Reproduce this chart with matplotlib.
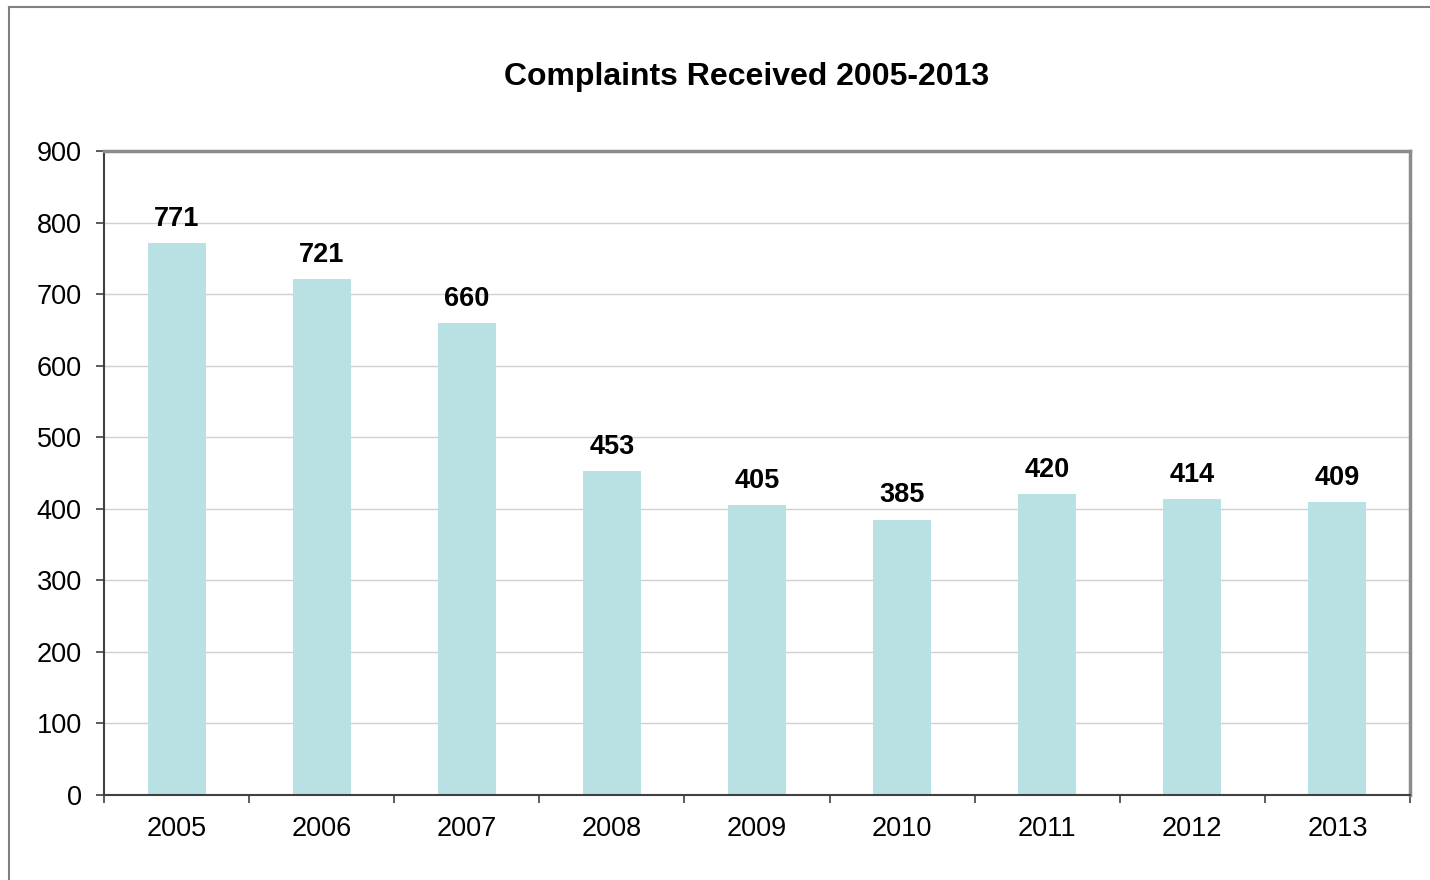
import matplotlib.pyplot as plt
from matplotlib.lines import Line2D

plt.rcParams['font.family'] = ['Liberation Sans', 'DejaVu Sans']

# Complaints per year
years = ['2005', '2006', '2007', '2008', '2009', '2010', '2011', '2012', '2013']
complaints = [771, 721, 660, 453, 405, 385, 420, 414, 409]

W, H = 1430, 880
fig = plt.figure(figsize=(W / 100, H / 100), dpi=100)

# outer chart border (runs off the right/bottom edge)
fig.add_artist(Line2D([8.5 / W, 8.5 / W], [0, 1 - 7.5 / H], transform=fig.transFigure,
                      color='#808080', lw=1.5))
fig.add_artist(Line2D([8.5 / W, 1], [1 - 7.5 / H, 1 - 7.5 / H], transform=fig.transFigure,
                      color='#808080', lw=1.5))

ax = fig.add_axes([104 / W, 1 - 795 / H, (1410 - 104) / W, (795 - 151) / H])

x = range(len(years))
ax.bar(x, complaints, width=0.4, color='#b9e0e3', zorder=2)

for i, v in zip(x, complaints):
    ax.annotate(str(v), (i, v), xytext=(0, 8), textcoords='offset points',
                ha='center', va='bottom', fontsize=19.5, fontweight='bold')

ax.set_xlim(-0.5, len(years) - 0.5)
ax.set_ylim(0, 900)
ax.set_yticks(range(0, 901, 100))
ax.yaxis.grid(True, color='#d0d0d0', lw=1, zorder=0)
ax.set_axisbelow(True)

# category labels at centres, tick marks between categories
ax.set_xticks(list(x))
ax.set_xticklabels(years)
ax.set_xticks([i - 0.5 for i in range(len(years) + 1)], minor=True)
ax.tick_params(axis='x', which='major', length=0, pad=15, labelsize=19.5)
ax.tick_params(axis='x', which='minor', length=6, width=1.2, color='#404040', direction='out')
ax.tick_params(axis='y', length=6, width=1.2, color='#404040', pad=10, labelsize=19.5)

for side in ['left', 'bottom']:
    ax.spines[side].set_color('#404040')
    ax.spines[side].set_linewidth(1.5)
for side in ['top', 'right']:
    ax.spines[side].set_color('#8c8c8c')
    ax.spines[side].set_linewidth(2.5)

fig.text(747 / W, 1 - 77 / H, 'Complaints Received 2005-2013',
         ha='center', va='center', fontsize=23, fontweight='bold')

fig.savefig('out.png', dpi=100)
